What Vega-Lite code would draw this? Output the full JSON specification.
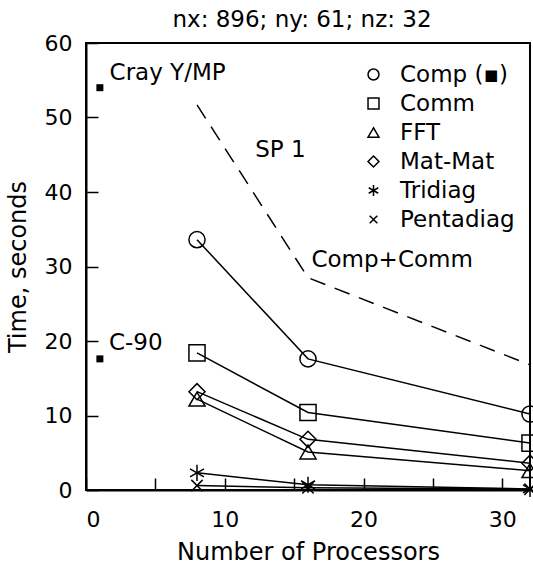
{
  "$schema": "https://vega.github.io/schema/vega-lite/v6.json",
  "width": 444,
  "height": 447,
  "autosize": {"type": "none"},
  "padding": {"left": 86, "top": 43, "right": 3, "bottom": 76},
  "title": {"text": "nx: 896; ny: 61; nz: 32", "fontSize": 23, "fontWeight": "normal", "color": "black", "offset": 0, "dx": -6},
  "datasets": {
    "series": [
      {"series": "Comp (▪)", "procs": 8, "time": 33.6},
      {"series": "Comp (▪)", "procs": 16, "time": 17.6},
      {"series": "Comp (▪)", "procs": 32, "time": 10.2},
      {"series": "Comm", "procs": 8, "time": 18.4},
      {"series": "Comm", "procs": 16, "time": 10.4},
      {"series": "Comm", "procs": 32, "time": 6.3},
      {"series": "FFT", "procs": 8, "time": 12.2},
      {"series": "FFT", "procs": 16, "time": 5.1},
      {"series": "FFT", "procs": 32, "time": 2.6},
      {"series": "Mat-Mat", "procs": 8, "time": 13.2},
      {"series": "Mat-Mat", "procs": 16, "time": 6.8},
      {"series": "Mat-Mat", "procs": 32, "time": 3.6},
      {"series": "Tridiag", "procs": 8, "time": 2.3},
      {"series": "Tridiag", "procs": 16, "time": 0.7},
      {"series": "Tridiag", "procs": 32, "time": 0.15},
      {"series": "Pentadiag", "procs": 8, "time": 0.6},
      {"series": "Pentadiag", "procs": 16, "time": 0.3},
      {"series": "Pentadiag", "procs": 32, "time": 0.1}
    ],
    "sp1": [
      {"procs": 8, "time": 51.7},
      {"procs": 16, "time": 28.5},
      {"procs": 32, "time": 16.8}
    ],
    "machines": [
      {"name": "Cray Y/MP", "procs": 1, "time": 54.0},
      {"name": "C-90", "procs": 1, "time": 17.6}
    ],
    "labels": [
      {"label": "Cray Y/MP", "procs": 1.7, "time": 55.0},
      {"label": "C-90", "procs": 1.65, "time": 18.8},
      {"label": "SP 1", "procs": 12.2, "time": 44.7},
      {"label": "Comp+Comm", "procs": 16.25, "time": 29.9}
    ]
  },
  "encoding": {
    "x": {"field": "procs", "type": "quantitative", "scale": {"domain": [0, 32], "nice": false},
      "axis": {"values": [0, 5, 10, 15, 20, 25, 30], "labelExpr": "datum.value % 10 === 0 ? datum.label : ''", "title": "Number of Processors", "labelPadding": 31, "titlePadding": 10}},
    "y": {"field": "time", "type": "quantitative", "scale": {"domain": [0, 60], "nice": false},
      "axis": {"values": [0, 10, 20, 30, 40, 50, 60], "title": "Time, seconds", "labelPadding": 26, "titlePadding": 14}}
  },
  "layer": [
    {
      "data": {"name": "series"},
      "mark": {"type": "line", "color": "black", "strokeWidth": 1.5},
      "encoding": {"detail": {"field": "series"}}
    },
    {
      "data": {"name": "series"},
      "mark": {"type": "point", "filled": false, "color": "black", "strokeWidth": 1.5, "size": 260, "opacity": 1},
      "encoding": {
        "shape": {"field": "series", "type": "nominal",
          "scale": {"domain": ["Comp (▪)", "Comm", "FFT", "Mat-Mat", "Tridiag", "Pentadiag"],
            "range": ["circle", "square", "triangle-up", "diamond", "M0,-1L0,1M-0.87,-0.5L0.87,0.5M-0.87,0.5L0.87,-0.5", "M-0.7,-0.7L0.7,0.7M-0.7,0.7L0.7,-0.7"]},
          "legend": {"orient": "none", "legendX": 276, "legendY": 20, "title": null, "padding": 0,
            "labelFontSize": 23, "labelColor": "black", "labelOffset": 15, "labelLimit": 300,
            "rowPadding": 5, "symbolSize": 120, "symbolStrokeColor": "black", "symbolStrokeWidth": 1.5}}
      }
    },
    {
      "data": {"name": "sp1"},
      "mark": {"type": "line", "color": "black", "strokeWidth": 1.5, "strokeDash": [16, 10]},
      "encoding": {}
    },
    {
      "data": {"name": "machines"},
      "mark": {"type": "point", "shape": "square", "filled": true, "color": "black", "size": 49, "opacity": 1},
      "encoding": {}
    },
    {
      "data": {"name": "labels"},
      "mark": {"type": "text", "align": "left", "baseline": "alphabetic", "fontSize": 23, "color": "black"},
      "encoding": {"text": {"field": "label"}}
    }
  ],
  "config": {
    "font": "DejaVu Sans",
    "view": {"stroke": "black", "strokeWidth": 2},
    "axis": {
      "grid": false,
      "domainColor": "black", "domainWidth": 2,
      "tickColor": "black", "tickWidth": 1.5, "tickSize": -12,
      "labelColor": "black", "labelFontSize": 22, "labelFont": "DejaVu Sans",
      "titleColor": "black", "titleFontSize": 24, "titleFontWeight": "normal", "titleFont": "DejaVu Sans"
    }
  }
}
